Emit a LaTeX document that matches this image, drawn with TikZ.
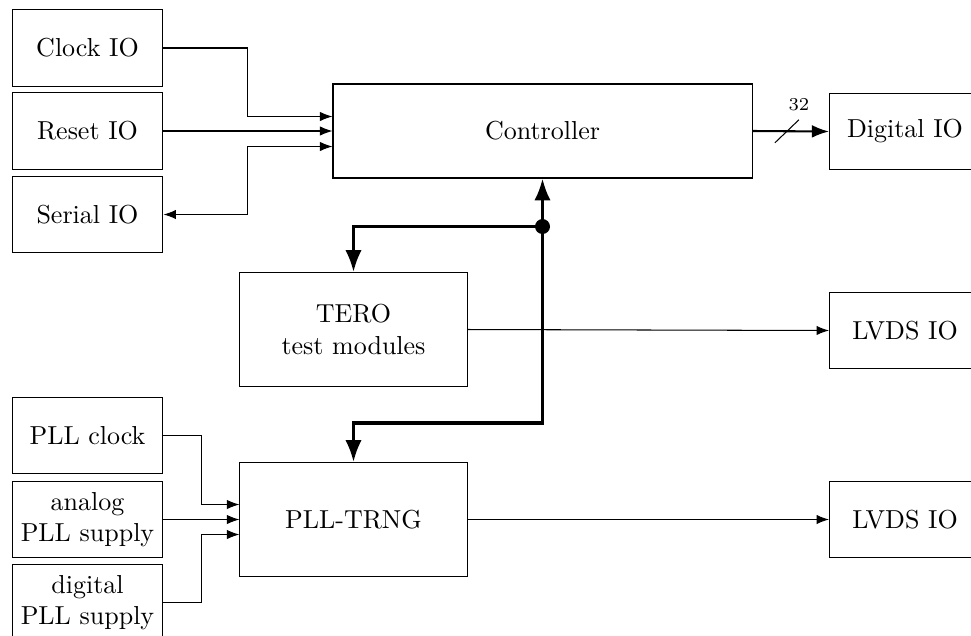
\documentclass[tikz,border=0pt]{standalone}
\usepackage{tikz}
\usetikzlibrary{arrows.meta,calc,positioning}

\begin{document}
\begin{tikzpicture}[x=0.1352cm,y=0.1352cm,>=Latex,
    iobox/.style={draw,align=center,minimum width=2.04cm,minimum height=1.03cm,inner sep=2pt},
    blkbox/.style={draw,align=center,minimum width=3.07cm,minimum height=1.54cm,inner sep=2pt},
    bus/.style={very thick}]
      \useasboundingbox (0,0) rectangle (97.1,-63.5);
      % left inputs
      \node[iobox] (clkio) at (8.75,-4.8) {Clock IO};
      \node[iobox] (rstio) at (8.75,-13.1) {Reset IO};
      \node[iobox] (serio) at (8.75,-21.45) {Serial IO};
      \node[iobox] (pllclk) at (8.75,-43.55) {PLL clock};
      \node[iobox] (pllana) at (8.75,-51.95) {analog\\PLL supply};
      \node[iobox] (plldig) at (8.75,-60.25) {digital\\PLL supply};
      % core blocks
      \node[draw,minimum width=5.665cm,minimum height=1.271cm] (ctrl) at (54.25,-13.1) {Controller};
      \node[blkbox] (tero) at (35.35,-32.95) {TERO\\test modules};
      \node[blkbox] (trng) at (35.35,-51.95) {PLL-TRNG};
      % right outputs
      \node[iobox] (digio) at (90.5,-13.15) {Digital IO};
      \node[iobox] (lvdsA) at (90.5,-33.05) {LVDS IO};
      \node[iobox] (lvdsB) at (90.5,-51.95) {LVDS IO};
      % controller inputs
      \coordinate (mA) at ($(rstio.east)!.5!(ctrl.west)$);
      \coordinate (inA) at ($(ctrl.west)+(0,1.45)$);
      \coordinate (inC) at ($(ctrl.west)+(0,-1.55)$);
      \draw[->] (clkio.east) -| (mA |- inA) -- (inA);
      \draw[->] (rstio.east) -- (ctrl.west);
      \draw[<->] (serio.east) -| (mA |- inC) -- (inC);
      % 32 bit output
      \draw[thick,->] (ctrl.east) -- (digio.west);
      \coordinate (cut) at ($(ctrl.east)!.45!(digio.west)$);
      \draw ($(cut)+(-1.2,-1.15)$) -- ($(cut)+(1.2,1.15)$) node[above,font=\scriptsize]{32};
      % bus
      \coordinate (jn) at ($(ctrl.south)+(0,-4.8)$);
      \coordinate (bend) at ($(trng.north)+(0,3.9)$);
      \draw[bus,->] (jn) -- (ctrl.south);
      \draw[bus,->] (jn) -| (tero.north);
      \draw[bus,->] (jn) |- (bend) -- (trng.north);
      \fill (jn) circle (0.75);
      % LVDS outputs
      \draw[->] (tero.east) -- (lvdsA.west);
      \draw[->] (trng.east) -- (lvdsB.west);
      % PLL inputs
      \coordinate (mB) at ($(pllana.east)!.5!(trng.west)$);
      \coordinate (inD) at ($(trng.west)+(0,1.5)$);
      \coordinate (inF) at ($(trng.west)+(0,-1.5)$);
      \draw[->] (pllclk.east) -| (mB |- inD) -- (inD);
      \draw[->] (pllana.east) -- (trng.west);
      \draw[->] (plldig.east) -| (mB |- inF) -- (inF);
    \end{tikzpicture}
\end{document}
